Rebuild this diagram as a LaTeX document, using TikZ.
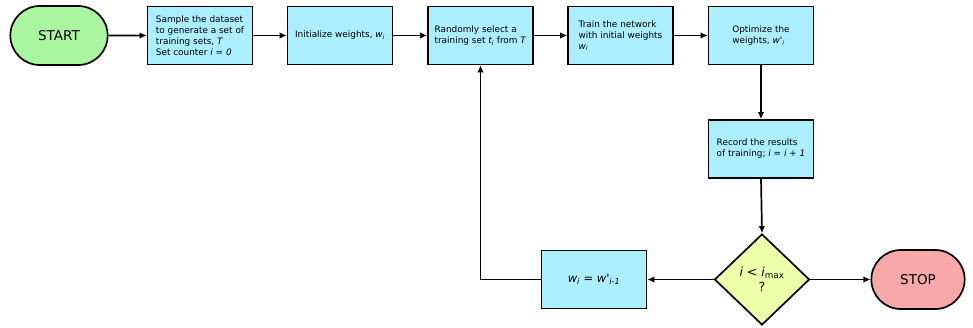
\documentclass[tikz,border=0pt]{standalone}
\usepackage{fontspec}
\setmainfont{DejaVu Sans}
\usetikzlibrary{shapes.misc,shapes.geometric,arrows.meta}
\definecolor{boxblue}{HTML}{AAEEFF}
\definecolor{startgreen}{HTML}{AAF5A0}
\definecolor{stoppink}{HTML}{F8A8A8}
\definecolor{decyellow}{HTML}{EEFFAA}
\newcommand{\prm}{\textquotesingle}
\tikzset{
  procbox/.style={draw, fill=boxblue, line width=1.7pt, minimum width=105pt,
    minimum height=58pt, inner sep=2pt, align=left,
    font=\fontsize{8.9}{11}\selectfont},
  terminal/.style={draw, rounded rectangle, line width=1.7pt, minimum width=104pt,
    minimum height=59pt, font=\fontsize{13.5}{15}\selectfont},
  decision/.style={draw, diamond, fill=decyellow, line width=1.7pt, minimum width=95pt,
    minimum height=91pt, inner sep=0pt, align=center,
    font=\fontsize{12.5}{15.5}\selectfont},
  flow/.style={line width=1.7pt, -{Latex[length=7pt,width=6.5pt]}}
}
\begin{document}
\begin{tikzpicture}[x=1pt,y=-1pt]
\useasboundingbox (0,0) rectangle (973,328);
\node[terminal, fill=startgreen] (start) at (59,35.5) {START};
\node[procbox] (sample) at (200,35.5) {Sample the dataset\\to generate a set of\\training sets, \textit{T}\\Set counter \textit{i = 0}};
\node[procbox] (init) at (340,35.5) {Initialize weights, \textit{w\textsubscript{i}}};
\node[procbox] (select) at (480.5,35.5) {Randomly select a\\training set \textit{t\textsubscript{i}} from \textit{T}};
\node[procbox] (train) at (620.5,35.5) {Train the network\\with initial weights\\\textit{w\textsubscript{i}}};
\node[procbox] (opt) at (761,35.5) {Optimize the\\weights, \textit{w\prm\textsubscript{i}}};
\node[procbox] (record) at (761,149) {Record the results\\of training; \textit{i = i + 1}};
\node[decision] (check) at (762,279.5) {\textit{i} < \textit{i}\textsubscript{max}\\?};
\node[procbox, font=\fontsize{11.5}{13}\selectfont, align=center] (update) at (594,279.5) {\textit{w\textsubscript{i}} = \textit{w\prm\textsubscript{i-1}}};
\node[terminal, fill=stoppink, minimum width=100pt] (stop) at (918,279.5) {STOP};
\draw[flow] (start) -- (sample);
\draw[flow] (sample) -- (init);
\draw[flow] (init) -- (select);
\draw[flow] (select) -- (train);
\draw[flow] (train) -- (opt);
\draw[flow] (opt) -- (record);
\draw[flow] (record.south) -- (check.north);
\draw[flow] (check) -- (stop);
\draw[flow] (check) -- (update);
\draw[flow] (update.west) -| (select.south);
\end{tikzpicture}
\end{document}
